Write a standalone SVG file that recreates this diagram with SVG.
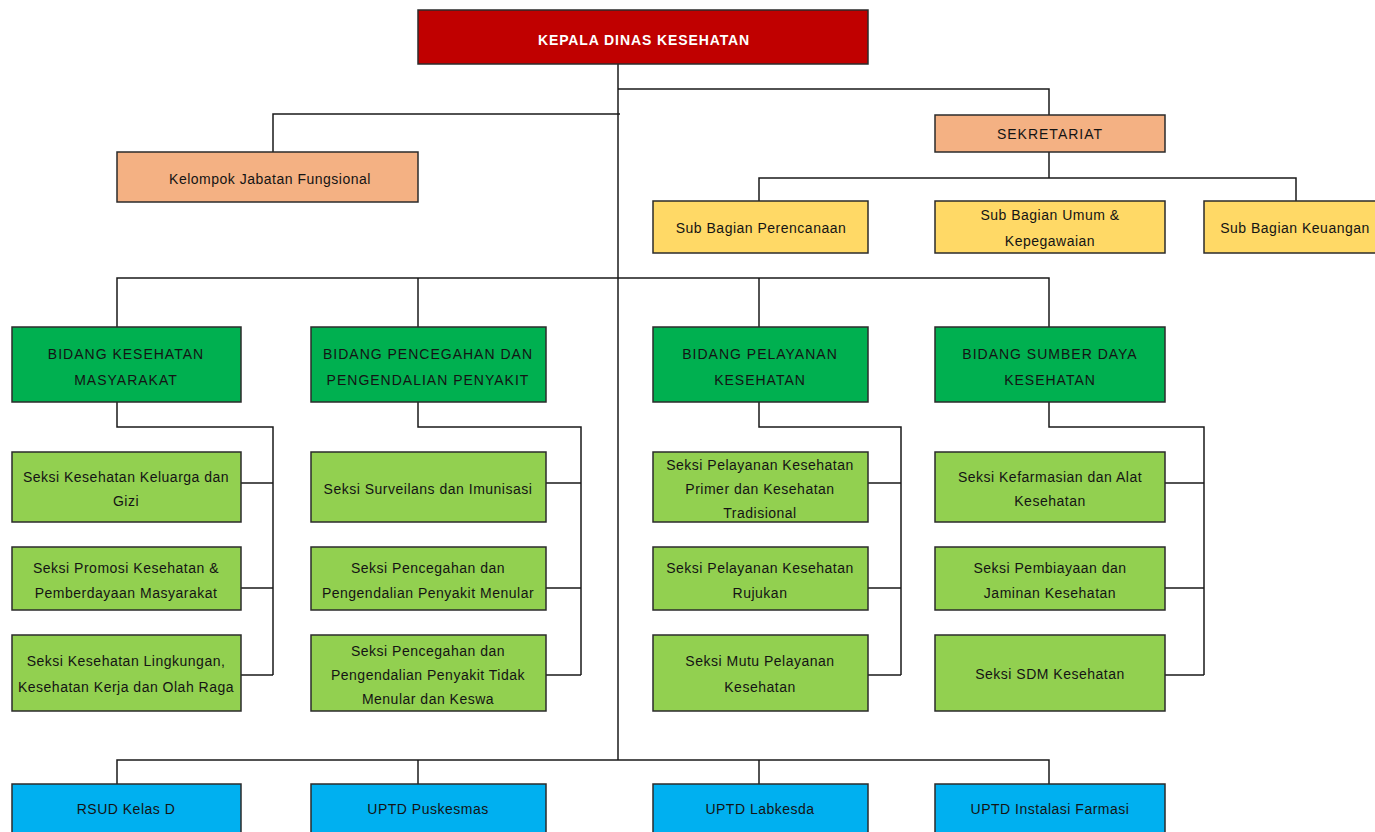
<svg xmlns="http://www.w3.org/2000/svg" width="1375" height="832" viewBox="0 0 1375 832">
<style>
.b{stroke:#2b2b2b;stroke-width:1.5}
.red{fill:#C00000}.sal{fill:#F4B183}.yel{fill:#FFD966}.grn{fill:#00B050}.lg{fill:#92D050}.blu{fill:#00B0F0}
text{font-family:"Liberation Sans",Arial,sans-serif;font-size:14px;letter-spacing:0.5px;fill:#141414;text-anchor:middle}
.u{letter-spacing:1px}
.w{fill:#ffffff;font-weight:bold;font-size:14px;letter-spacing:0.9px}
#conn path{fill:none;stroke:#1a1a1a;stroke-width:1.5}
</style>
<rect width="1375" height="832" fill="#ffffff"/>
<g id="conn">
<path d="M618,64 V760"/>
<path d="M618,89 H1049 V115"/>
<path d="M273,152 V114 H620"/>
<path d="M1049,152 V178"/>
<path d="M759,201 V178 H1296 V201"/>
<path d="M117,327 V278 H1049 V327"/>
<path d="M418,278 V327"/>
<path d="M759,278 V327"/>
<path d="M117,402 V427 H273 V675"/>
<path d="M241,483 H273 M241,588 H273 M241,675 H273"/>
<path d="M418,402 V427 H581 V675"/>
<path d="M546,483 H581 M546,588 H581 M546,675 H581"/>
<path d="M759,402 V427 H901 V675"/>
<path d="M868,483 H901 M868,588 H901 M868,675 H901"/>
<path d="M1049,402 V427 H1204 V675"/>
<path d="M1165,483 H1204 M1165,588 H1204 M1165,675 H1204"/>
<path d="M117,784 V760 H1049 V784"/>
<path d="M418,760 V784"/>
<path d="M759,760 V784"/>
</g>
<g id="kepala"><rect class="b red" x="418" y="10" width="450" height="54"/><text class="w" x="644" y="45">KEPALA DINAS KESEHATAN</text></g>
<g id="kelompok"><rect class="b sal" x="117" y="152" width="301" height="50"/><text x="270" y="184">Kelompok Jabatan Fungsional</text></g>
<g id="sekretariat"><rect class="b sal" x="935" y="115" width="230" height="37"/><text class="u" x="1050" y="139">SEKRETARIAT</text></g>
<g id="sub-perencanaan"><rect class="b yel" x="653" y="201" width="215" height="52"/><text x="761" y="233">Sub Bagian Perencanaan</text></g>
<g id="sub-umum"><rect class="b yel" x="935" y="201" width="230" height="52"/><text x="1050" y="220">Sub Bagian Umum &amp;</text><text x="1050" y="246">Kepegawaian</text></g>
<g id="sub-keuangan"><rect class="b yel" x="1204" y="201" width="185" height="52"/><text x="1295" y="233">Sub Bagian Keuangan</text></g>
<g id="bidang-kesmas"><rect class="b grn" x="12" y="327" width="229" height="75"/><text class="u" x="126" y="359">BIDANG KESEHATAN</text><text class="u" x="126" y="385">MASYARAKAT</text></g>
<g id="bidang-p2p"><rect class="b grn" x="311" y="327" width="235" height="75"/><text class="u" x="428" y="359">BIDANG PENCEGAHAN DAN</text><text class="u" x="428" y="385">PENGENDALIAN PENYAKIT</text></g>
<g id="bidang-yankes"><rect class="b grn" x="653" y="327" width="215" height="75"/><text class="u" x="760" y="359">BIDANG PELAYANAN</text><text class="u" x="760" y="385">KESEHATAN</text></g>
<g id="bidang-sdk"><rect class="b grn" x="935" y="327" width="230" height="75"/><text class="u" x="1050" y="359">BIDANG SUMBER DAYA</text><text class="u" x="1050" y="385">KESEHATAN</text></g>
<g id="seksi-kg"><rect class="b lg" x="12" y="452" width="229" height="70"/><text x="126" y="482">Seksi Kesehatan Keluarga dan</text><text x="126" y="506">Gizi</text></g>
<g id="seksi-promkes"><rect class="b lg" x="12" y="547" width="229" height="63"/><text x="126" y="573">Seksi Promosi Kesehatan &amp;</text><text x="126" y="598">Pemberdayaan Masyarakat</text></g>
<g id="seksi-kesling"><rect class="b lg" x="12" y="635" width="229" height="76"/><text x="126" y="666">Seksi Kesehatan Lingkungan,</text><text x="126" y="692">Kesehatan Kerja dan Olah Raga</text></g>
<g id="seksi-surveilans"><rect class="b lg" x="311" y="452" width="235" height="70"/><text x="428" y="494">Seksi Surveilans dan Imunisasi</text></g>
<g id="seksi-p2pm"><rect class="b lg" x="311" y="547" width="235" height="63"/><text x="428" y="573">Seksi Pencegahan dan</text><text x="428" y="598">Pengendalian Penyakit Menular</text></g>
<g id="seksi-p2ptm"><rect class="b lg" x="311" y="635" width="235" height="76"/><text x="428" y="656">Seksi Pencegahan dan</text><text x="428" y="680">Pengendalian Penyakit Tidak</text><text x="428" y="704">Menular dan Keswa</text></g>
<g id="seksi-primer"><rect class="b lg" x="653" y="452" width="215" height="70"/><text x="760" y="470">Seksi Pelayanan Kesehatan</text><text x="760" y="494">Primer dan Kesehatan</text><text x="760" y="518">Tradisional</text></g>
<g id="seksi-rujukan"><rect class="b lg" x="653" y="547" width="215" height="63"/><text x="760" y="573">Seksi Pelayanan Kesehatan</text><text x="760" y="598">Rujukan</text></g>
<g id="seksi-mutu"><rect class="b lg" x="653" y="635" width="215" height="76"/><text x="760" y="666">Seksi Mutu Pelayanan</text><text x="760" y="692">Kesehatan</text></g>
<g id="seksi-farmasi"><rect class="b lg" x="935" y="452" width="230" height="70"/><text x="1050" y="482">Seksi Kefarmasian dan Alat</text><text x="1050" y="506">Kesehatan</text></g>
<g id="seksi-pembiayaan"><rect class="b lg" x="935" y="547" width="230" height="63"/><text x="1050" y="573">Seksi Pembiayaan dan</text><text x="1050" y="598">Jaminan Kesehatan</text></g>
<g id="seksi-sdm"><rect class="b lg" x="935" y="635" width="230" height="76"/><text x="1050" y="679">Seksi SDM Kesehatan</text></g>
<g id="rsud"><rect class="b blu" x="12" y="784" width="229" height="60"/><text x="126" y="814">RSUD Kelas D</text></g>
<g id="puskesmas"><rect class="b blu" x="311" y="784" width="235" height="60"/><text x="428" y="814">UPTD Puskesmas</text></g>
<g id="labkesda"><rect class="b blu" x="653" y="784" width="215" height="60"/><text x="760" y="814">UPTD Labkesda</text></g>
<g id="instalasi-farmasi"><rect class="b blu" x="935" y="784" width="230" height="60"/><text x="1050" y="814">UPTD Instalasi Farmasi</text></g>
</svg>
